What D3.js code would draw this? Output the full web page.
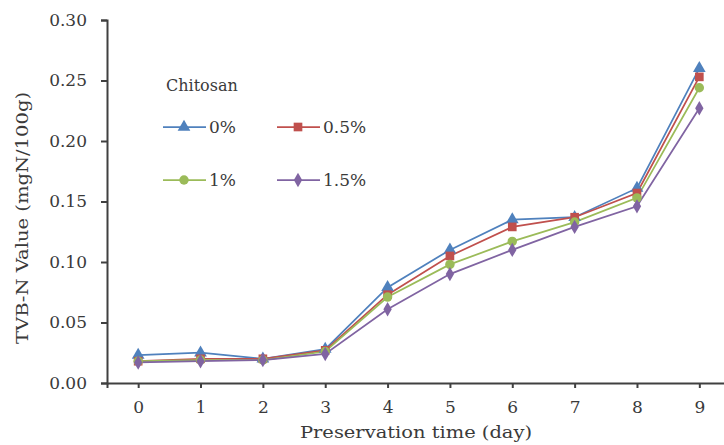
<!DOCTYPE html>
<html>
<head>
<meta charset="utf-8">
<script src="https://cdn.jsdelivr.net/npm/d3@7"></script>
<style>
  body { margin: 0; background: #fff; }
  svg text { font-family: "DejaVu Serif", "Liberation Serif", serif; fill: #3a3a3a; }
</style>
</head>
<body>
<div id="chart"></div>
<script>
// data
const days = [0, 1, 2, 3, 4, 5, 6, 7, 8, 9];
const yTicks = [0, 0.05, 0.10, 0.15, 0.20, 0.25, 0.30];
const seriesNames = ["0%", "0.5%", "1%", "1.5%"];
const chitosan0 = [0.023, 0.025, 0.020, 0.028, 0.079, 0.110, 0.135, 0.137, 0.161, 0.260];
const chitosan05 = [0.018, 0.020, 0.020, 0.027, 0.073, 0.105, 0.129, 0.137, 0.157, 0.253];
const chitosan1 = [0.018, 0.019, 0.019, 0.026, 0.071, 0.098, 0.117, 0.133, 0.153, 0.244];
const chitosan15 = [0.017, 0.018, 0.019, 0.024, 0.061, 0.090, 0.110, 0.129, 0.146, 0.227];
const colors = ["#4F81BD", "#C0504D", "#9BBB59", "#8064A2"];
const symbols = [d3.symbolTriangle, d3.symbolSquare, d3.symbolCircle, d3.symbolDiamond];
const symbolSizes = [70, 75, 70, 60];

const WIDTH = 724, HEIGHT = 445;
const series = [chitosan0, chitosan05, chitosan1, chitosan15].map((v, i) => ({
    name: seriesNames[i], values: v, color: colors[i], symbol: symbols[i], size: symbolSizes[i]
}));

const svg = d3.select("#chart").append("svg")
    .attr("width", WIDTH)
    .attr("height", HEIGHT);

const x = d3.scaleLinear().domain([-0.5, 9.5]).range([107, 730.5]);
const y = d3.scaleLinear().domain([0, 0.30]).range([383, 20]);

// axes
const yAxis = svg.append("g")
    .attr("transform", "translate(107,0)")
    .call(d3.axisLeft(y).tickValues(yTicks).tickFormat(d3.format(".2f")).tickSizeOuter(0).tickSize(6).tickPadding(14));
const xAxis = svg.append("g")
    .attr("transform", "translate(0,383)")
    .call(d3.axisBottom(x).tickValues(days).tickFormat(d3.format("d")).tickSizeOuter(0).tickSize(5).tickPadding(13));

[xAxis, yAxis].forEach(a => {
    a.select(".domain").attr("stroke", "#404040").attr("stroke-width", 2);
    a.selectAll(".tick line").attr("stroke", "#404040").attr("stroke-width", 2);
    a.selectAll(".tick text").attr("font-size", 17).attr("fill", "#3a3a3a")
        .style("font-family", "'DejaVu Serif', serif");
});

// axis titles
svg.append("text")
    .attr("transform", "translate(28,218) rotate(-90)")
    .attr("text-anchor", "middle")
    .attr("font-size", 16.5)
    .attr("textLength", 252)
    .attr("lengthAdjust", "spacingAndGlyphs")
    .text("TVB-N Value (mgN/100g)");
svg.append("text")
    .attr("x", 416)
    .attr("y", 438)
    .attr("text-anchor", "middle")
    .attr("font-size", 16)
    .attr("textLength", 232)
    .attr("lengthAdjust", "spacingAndGlyphs")
    .text("Preservation time (day)");

// lines and markers
const line = d3.line().x((d, i) => x(days[i])).y(d => y(d));
const plot = svg.append("g");
series.forEach(s => {
    plot.append("path")
        .attr("d", line(s.values))
        .attr("fill", "none")
        .attr("stroke", s.color)
        .attr("stroke-width", 1.75);
});
series.forEach(s => {
    plot.selectAll(null)
        .data(s.values)
        .join("path")
        .attr("transform", (d, i) => `translate(${x(days[i])},${y(d)})`)
        .attr("d", d3.symbol().type(s.symbol).size(s.size))
        .attr("fill", s.color);
});

// legend
const legend = svg.append("g");
legend.append("text")
    .attr("x", 166)
    .attr("y", 91)
    .attr("font-size", 16)
    .text("Chitosan");
const legendPos = [[163, 127], [277, 127], [163, 180], [277, 180]];
series.forEach((s, i) => {
    const [lx, ly] = legendPos[i];
    const g = legend.append("g").attr("transform", `translate(${lx},${ly})`);
    g.append("line").attr("x1", 0).attr("x2", 43).attr("stroke", s.color).attr("stroke-width", 1.75);
    g.append("path")
        .attr("transform", "translate(21,0)")
        .attr("d", d3.symbol().type(s.symbol).size(s.size))
        .attr("fill", s.color);
    g.append("text").attr("x", 46).attr("y", 6).attr("font-size", 17).text(s.name);
});
</script>
</body>
</html>
